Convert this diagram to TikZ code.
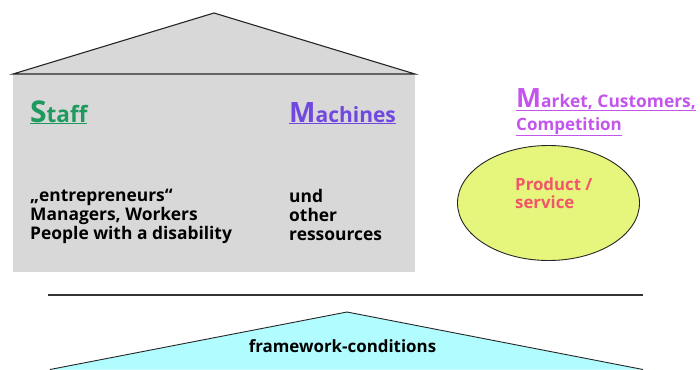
\documentclass[tikz,border=0pt]{standalone}
\usepackage{fontspec}
\setmainfont{Open Sans}[BoldFont={Open Sans Bold}]
\usetikzlibrary{shapes.geometric}
\definecolor{wallgray}{HTML}{D8D8D8}
\definecolor{staffgreen}{HTML}{1E9A5E}
\definecolor{machpurple}{HTML}{7048E0}
\definecolor{marketpink}{HTML}{C455EC}
\definecolor{prodred}{HTML}{F2566A}
\definecolor{ovalfill}{HTML}{E6F57C}
\definecolor{basecyan}{HTML}{B0FCFE}
\tikzset{
  outline/.style={draw=black!85, line width=1.1pt, line join=miter},
  body/.style={font=\bfseries\fontsize{17.4}{19}\selectfont, align=left, anchor=north west, inner sep=0pt, text=black},
  heading/.style={font=\bfseries, anchor=base west, inner sep=0pt},
}
\newcommand{\bigfirst}[4]{\underline{{\fontsize{#3}{#3}\selectfont #1}{\fontsize{#4}{#4}\selectfont #2}}}
\begin{document}
\begin{tikzpicture}[x=1pt,y=-1pt]
  \useasboundingbox (0,0) rectangle (700,369);
  % house: walls and roof
  \fill[wallgray] (13,74) rectangle (415,272);
  \filldraw[fill=wallgray, outline] (13,74) -- (214,13) -- (415,74) -- cycle;
  \node[coordinate] (roofapex) at (214,13) {};
  % headings
  \node[heading, text=staffgreen] (staff) at (30,122) {\bigfirst{S}{taff}{30}{22.5}};
  \node[heading, text=machpurple] (machines) at (289,122) {\bigfirst{M}{achines}{28}{21}};
  \node[heading, text=marketpink] (market) at (516,107) {\bigfirst{M}{arket, Customers,}{26.5}{17.4}};
  \node[heading, text=marketpink, font=\bfseries\fontsize{17}{17}\selectfont] (competition) at (516,130) {\underline{Competition}};
  % wall texts
  \node[body] (people) at (30,189) {„entrepreneurs“\\Managers, Workers\\People with a disability};
  \node[body] (resources) at (289,189) {und\\other\\ressources};
  % product oval
  \node[ellipse, draw=black!85, line width=0.9pt, fill=ovalfill, minimum width=182pt, minimum height=115pt] (product) at (548.5,203) {};
  \node[body, text=prodred, font=\bfseries\fontsize{16.8}{18}\selectfont] (prodtext) at (515,178) {Product /\\service};
  % ground line and base
  \draw[draw=black!80, line width=1.3pt] (48,295) coordinate (gl) -- (643,295) coordinate (gr);
  \filldraw[fill=basecyan, outline, line width=0.9pt] (50,369.5) -- (347,312) -- (643,369.5);
  \node[font=\bfseries\fontsize{16.9}{17}\selectfont, anchor=base, inner sep=0pt] (framework) at (342.5,352) {framework-conditions};
\end{tikzpicture}
\end{document}
